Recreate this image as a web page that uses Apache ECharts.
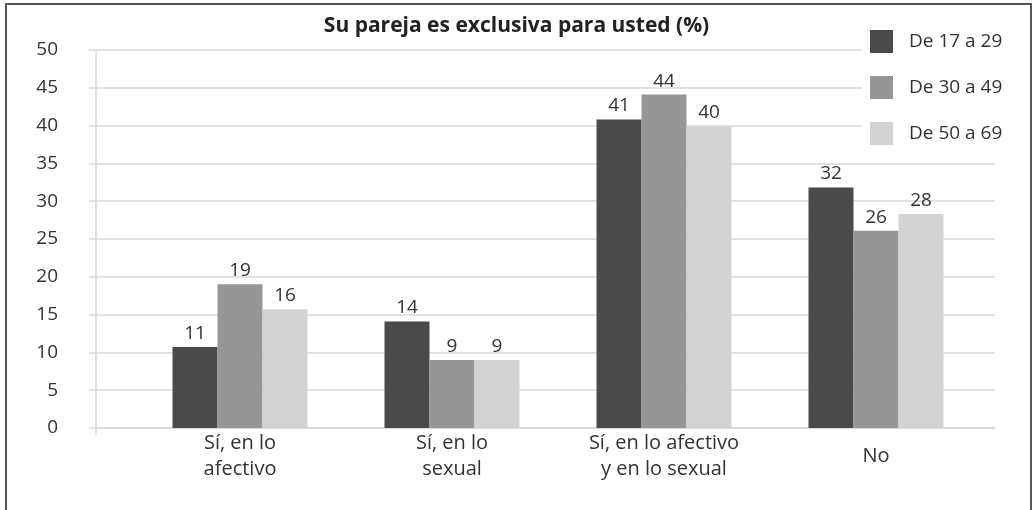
<!DOCTYPE html>
<html>
<head>
<meta charset="utf-8">
<script src="https://cdn.jsdelivr.net/npm/echarts@6/dist/echarts.min.js"></script>
<style>
  html, body { margin: 0; padding: 0; background: #fff; }
  #chart { width: 1033px; height: 510px; }
</style>
</head>
<body>
<div id="chart"></div>
<script>
// categorías y series
const categories = ['Sí, en lo\nafectivo', 'Sí, en lo\nsexual', 'Sí, en lo afectivo\ny en lo sexual', 'No']
const seriesNames = ['De 17 a 29', 'De 30 a 49', 'De 50 a 69']
const edad17a29 = [10.7, 14.1, 40.8, 31.8]
const edad30a49 = [19.0, 9.0, 44.1, 26.1]
const edad50a69 = [15.7, 9.0, 39.9, 28.3]
const yTicks = [0, 50, 5]  // min, max, intervalo

const colors = ['#4b494a', '#969698', '#d3d3d3']
const font = '"Open Sans", "Noto Sans", sans-serif'
const txt = '#333333'
const grid = '#d9d9d9'

const mycharts = echarts.init(document.getElementById('chart'))

const makeSeries = (name, data, i) => ({
    name: name,
    type: 'bar',
    xAxisIndex: 1,
    yAxisIndex: 1,
    data: data,
    barWidth: 45,
    barGap: '0%',
    itemStyle: { color: colors[i] },
    label: {
        show: true,
        position: 'top',
        distance: 4,
        fontFamily: font,
        fontSize: 19,
        color: txt,
        formatter: (p) => Math.round(p.value)
    }
})

mycharts.setOption({
    animation: false,
    title: {
        text: 'Su pareja es exclusiva para usted (%)',
        left: 'center',
        top: 11,
        textStyle: { fontFamily: font, fontSize: 21, fontWeight: 'bold', color: '#222' }
    },
    legend: {
        orient: 'vertical',
        left: 862,
        top: 18,
        padding: [12, 14, 6, 8],
        backgroundColor: '#fff',
        icon: 'rect',
        itemWidth: 23,
        itemHeight: 23,
        itemGap: 23,
        data: seriesNames,
        textStyle: { fontFamily: font, fontSize: 19, color: txt, padding: [0, 0, 0, 11] }
    },
    // marco del gráfico
    graphic: [{
        type: 'polyline',
        z: 100,
        shape: { points: [[6, 510], [6, 4], [1031, 4], [1031, 510]] },
        style: { stroke: '#555', lineWidth: 2, fill: null }
    }],
    grid: [
        // rejilla con eje Y y líneas guía
        { left: 96, right: 38, top: 50, bottom: 82 },
        // rejilla de las barras
        { left: 134, right: 51, top: 50, bottom: 82 }
    ],
    xAxis: [{
        gridIndex: 0,
        type: 'value',
        min: 0,
        max: 1,
        interval: 1,
        axisLine: { show: true, lineStyle: { color: grid, width: 1.5 } },
        axisTick: { show: true, customValues: [0], length: 7, lineStyle: { color: grid, width: 1.5 } },
        axisLabel: { show: false },
        splitLine: { show: false }
    }, {
        gridIndex: 1,
        type: 'category',
        data: categories,
        axisLine: { show: false },
        axisTick: { show: false },
        axisLabel: {
            margin: 2,
            fontFamily: font,
            fontSize: 20,
            color: txt,
            lineHeight: 26,
            formatter: (v) => v.indexOf('\n') < 0 ? '{one|' + v + '}' : v,
            rich: { one: { fontFamily: font, fontSize: 20, color: txt, lineHeight: 52 } }
        }
    }],
    yAxis: [{
        gridIndex: 0,
        type: 'value',
        min: yTicks[0],
        max: yTicks[1],
        interval: yTicks[2],
        axisLine: { show: true, lineStyle: { color: grid, width: 1.5 } },
        axisTick: { show: true, length: 7, lineStyle: { color: grid, width: 1.5 } },
        axisLabel: { margin: 38, fontFamily: font, fontSize: 19, color: txt },
        splitLine: { lineStyle: { color: grid, width: 1.5 } }
    }, {
        gridIndex: 1,
        type: 'value',
        min: yTicks[0],
        max: yTicks[1],
        interval: yTicks[2],
        show: false,
        splitLine: { show: false }
    }],
    series: [
        makeSeries(seriesNames[0], edad17a29, 0),
        makeSeries(seriesNames[1], edad30a49, 1),
        makeSeries(seriesNames[2], edad50a69, 2)
    ]
})
</script>
</body>
</html>
